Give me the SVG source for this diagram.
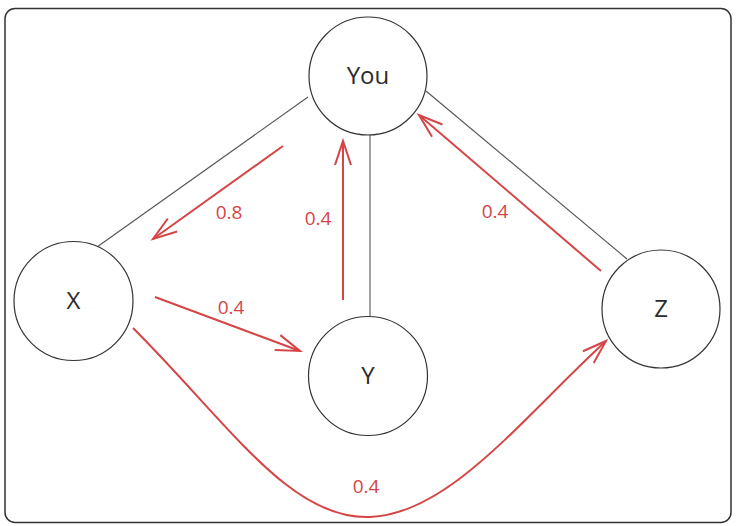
<svg xmlns="http://www.w3.org/2000/svg" width="736" height="526" viewBox="0 0 736 526">
  <style>
    .node circle { fill: #ffffff; stroke: #333333; stroke-width: 1.2; }
    .node text { font-family: "Open Sans", "Liberation Sans", sans-serif; font-size: 24px; fill: #2b2b2b; text-anchor: middle; }
    .edge { fill: none; stroke: #555555; stroke-width: 1.1; }
    .flow { fill: none; stroke: #d64545; stroke-width: 2; marker-end: url(#ah); }
    .lbl { font-family: "Open Sans", "Liberation Sans", sans-serif; font-size: 19px; fill: #d64545; text-anchor: middle; }
  </style>
  <defs>
    <marker id="ah" viewBox="-28 -12 32 24" refX="0" refY="0" markerWidth="32" markerHeight="24" markerUnits="userSpaceOnUse" orient="auto">
      <path d="M-24,-8 L0,0 L-24,8" fill="none" stroke="#d64545" stroke-width="2"/>
    </marker>
  </defs>
  <rect x="5" y="8.5" width="726" height="514" rx="10" fill="#ffffff" stroke="#333333" stroke-width="1.5"/>
  <g id="connectors">
    <line class="edge" x1="308" y1="97" x2="97" y2="247"/>
    <line class="edge" x1="370" y1="134" x2="370" y2="316"/>
    <line class="edge" x1="426" y1="91" x2="627" y2="259"/>
    <line class="flow" x1="283" y1="146" x2="153" y2="239"/>
    <line class="flow" x1="343" y1="300" x2="343" y2="141"/>
    <line class="flow" x1="601" y1="271" x2="419" y2="115"/>
    <line class="flow" x1="155" y1="297" x2="300" y2="351"/>
    <path class="flow" d="M133,328 C230,425 290,520 370,517 C450,514 525,415 606,341"/>
    <text class="lbl" x="229" y="219">0.8</text>
    <text class="lbl" x="318" y="225">0.4</text>
    <text class="lbl" x="495" y="218">0.4</text>
    <text class="lbl" x="231" y="314">0.4</text>
    <text class="lbl" x="366" y="493">0.4</text>
  </g>
  <g id="node-you" class="node">
    <circle cx="368" cy="76" r="59"/>
    <text x="368" y="84">You</text>
  </g>
  <g id="node-x" class="node">
    <circle cx="73.5" cy="301" r="59.5"/>
    <text x="73.5" y="309">X</text>
  </g>
  <g id="node-y" class="node">
    <circle cx="368" cy="376" r="59.5"/>
    <text x="368" y="384">Y</text>
  </g>
  <g id="node-z" class="node">
    <circle cx="661" cy="309" r="59"/>
    <text x="661" y="317">Z</text>
  </g>
</svg>
